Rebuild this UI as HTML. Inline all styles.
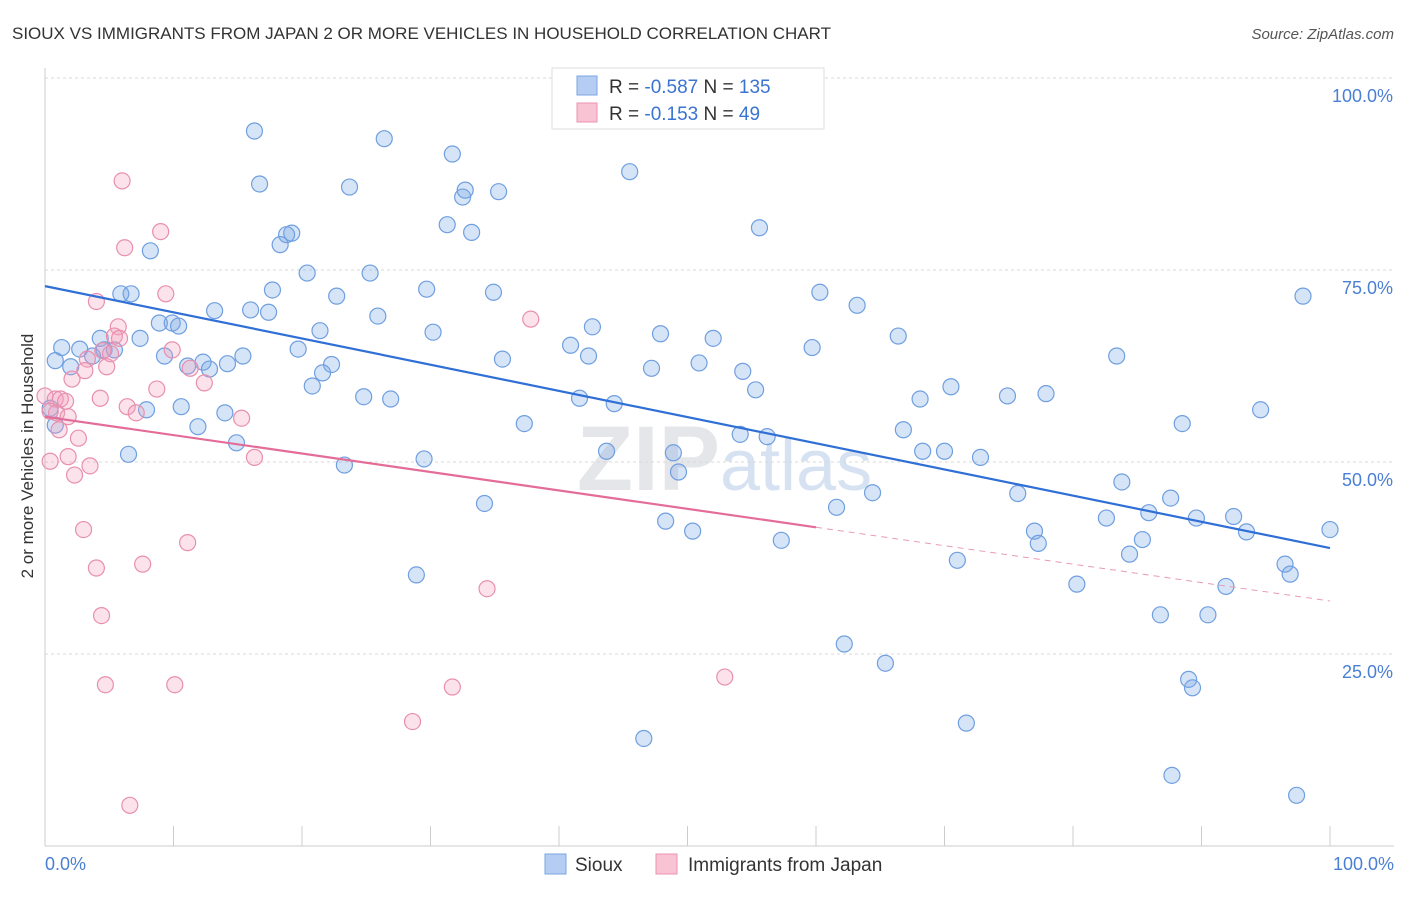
<!DOCTYPE html>
<html><head><meta charset="utf-8"><style>
body{margin:0;background:#fff;font-family:"Liberation Sans",sans-serif}
svg text{font-family:"Liberation Sans",sans-serif}
</style></head><body>
<svg id="chart" width="1406" height="892" viewBox="0 0 1406 892">
<text x="12" y="39" font-size="17" fill="#333">SIOUX VS IMMIGRANTS FROM JAPAN 2 OR MORE VEHICLES IN HOUSEHOLD CORRELATION CHART</text>
<text x="1394" y="39" font-size="15" fill="#555" text-anchor="end" font-style="italic">Source: ZipAtlas.com</text>
<text x="720" y="490" font-size="92" fill="#e4e6ea" text-anchor="end" font-weight="bold">ZIP</text>
<text x="720" y="490" font-size="72" fill="#d6e2f2">atlas</text>
<g id="grid"></g>
<g id="axes"></g>
<g id="pts"></g>
<g id="trend"></g>
<text transform="translate(33,456) rotate(-90)" font-size="17" fill="#333" text-anchor="middle">2 or more Vehicles in Household</text>
<text x="45" y="870" font-size="18" fill="#4a7fd4">0.0%</text>
<text x="1394" y="870" font-size="18" fill="#4a7fd4" text-anchor="end">100.0%</text>
<g>
<rect x="552" y="68" width="272" height="61" fill="#fff" stroke="#ddd"/>
<rect x="577" y="76" width="20" height="19" fill="#b5cdf2" stroke="#7aa5e3"/>
<rect x="577" y="103" width="20" height="19" fill="#f8c3d3" stroke="#eb93b0"/>
<text x="609" y="93" font-size="19" fill="#333">R = <tspan fill="#3b73d1">-0.587</tspan>   N = <tspan fill="#3b73d1">135</tspan></text>
<text x="609" y="120" font-size="19" fill="#333">R =  <tspan fill="#3b73d1">-0.153</tspan>   N =  <tspan fill="#3b73d1"> 49</tspan></text>
</g>
<g><rect x="545" y="854" width="21" height="20" fill="#b5cdf2" stroke="#7aa5e3"/><text x="575" y="871" font-size="19" fill="#333">Sioux</text></g>
<g><rect x="656" y="854" width="21" height="20" fill="#f8c3d3" stroke="#eb93b0"/><text x="688" y="871" font-size="19" fill="#333">Immigrants from Japan</text></g>
</svg>
<script>
const yTicks=[25,50,75,100];
const yTickLabels=["25.0%","50.0%","75.0%","100.0%"];
const xTicks=[0,10,20,30,40,50,60,70,80,90,100];
const siouxX=[16.3,26.4,31.7,16.7,23.7,32.7,32.5,35.3,45.5,31.3,33.2,19.2,18.8,18.3,55.6,8.2,20.4,25.3,17.7,5.9,6.7,22.7,29.7,34.9,60.3,63.2,97.9,13.2,16.0,17.4,25.9,8.9,9.9,10.4,21.4,30.2,42.6,47.9,52.0,66.4,1.3,2.7,4.3,7.4,4.6,5.4,3.7,9.3,19.7,40.9,59.7,83.4,0.8,2.0,11.1,12.3,12.8,15.4,14.2,22.3,21.6,35.6,42.3,47.2,50.9,54.3,20.8,24.8,26.9,41.6,44.3,55.3,68.1,70.5,74.9,77.9,94.6,88.5,0.4,0.8,7.9,10.6,14.0,11.9,37.3,54.1,56.2,66.8,14.9,6.5,23.3,29.5,43.7,48.9,49.3,68.3,70.0,72.8,75.7,83.8,64.4,34.2,61.6,82.6,85.9,87.6,89.6,92.5,93.5,48.3,50.4,57.3,77.0,77.3,85.4,84.4,71.0,100.0,96.5,96.9,28.9,80.3,91.9,86.8,90.5,62.2,65.4,89.0,89.3,71.7,46.6,87.7,97.4];
const siouxY=[93.1,92.1,90.1,86.2,85.8,85.4,84.5,85.2,87.8,80.9,79.9,79.8,79.6,78.3,80.5,77.5,74.6,74.6,72.4,71.9,71.9,71.6,72.5,72.1,72.1,70.4,71.6,69.7,69.8,69.5,69.0,68.1,68.1,67.7,67.1,66.9,67.6,66.7,66.1,66.4,64.9,64.7,66.1,66.1,64.6,64.6,63.8,63.8,64.7,65.2,64.9,63.8,63.2,62.4,62.5,63.0,62.1,63.8,62.8,62.7,61.6,63.4,63.8,62.2,62.9,61.8,59.9,58.5,58.2,58.3,57.6,59.4,58.2,59.8,58.6,58.9,56.8,55.0,57.0,54.8,56.8,57.2,56.4,54.6,55.0,53.6,53.3,54.2,52.5,51.0,49.6,50.4,51.4,51.2,48.7,51.4,51.4,50.6,45.9,47.4,46.0,44.6,44.1,42.7,43.4,45.3,42.7,42.9,40.9,42.3,41.0,39.8,41.0,39.4,39.9,38.0,37.2,41.2,36.7,35.4,35.3,34.1,33.8,30.1,30.1,26.3,23.8,21.7,20.6,16.0,14.0,9.2,6.6];
const japanX=[6.0,9.0,6.2,9.4,4.0,37.8,5.7,5.4,5.8,9.9,4.5,3.3,4.8,3.1,11.3,12.4,2.1,8.7,0.0,0.8,1.2,4.3,6.4,7.1,0.9,1.8,15.3,1.1,2.6,1.8,16.3,3.5,0.4,2.3,3.0,11.1,7.6,4.0,34.4,4.4,52.9,4.7,10.1,31.7,28.6,6.6,0.4,1.6,5.1];
const japanY=[86.6,80.0,77.9,71.9,70.9,68.6,67.6,66.4,66.1,64.6,64.5,63.4,62.4,61.9,62.2,60.3,60.8,59.5,58.6,58.2,58.2,58.3,57.2,56.4,56.4,55.9,55.7,54.2,53.1,50.7,50.6,49.5,50.1,48.3,41.2,39.5,36.7,36.2,33.5,30.0,22.0,21.0,21.0,20.7,16.2,5.3,56.6,57.9,64.1];
const siouxTrend=[72.9,38.8];
const japanTrend=[55.9,41.5,31.9];
const X0=45,X1=1330,Y0=846,Y100=78;
const sx=v=>X0+(X1-X0)*v/100, sy=v=>Y0-(Y0-Y100)*v/100;
const NS="http://www.w3.org/2000/svg";
function mk(t,a,p){const e=document.createElementNS(NS,t);for(const k in a)e.setAttribute(k,a[k]);p.appendChild(e);return e;}
const grid=document.getElementById('grid'),axes=document.getElementById('axes'),pts=document.getElementById('pts'),tr=document.getElementById('trend');
yTicks.forEach((t,i)=>{
 const l=mk('line',{x1:45,x2:1394,y1:sy(t),y2:sy(t),stroke:'#d8d8d8','stroke-dasharray':'3,3'},grid);
 
 
 const tx=mk('text',{x:1393,y:sy(t)+24,'font-size':18,fill:'#4a7fd4','text-anchor':'end'},grid);
 tx.textContent=yTickLabels[i];
 
 
});
const ax=mk('line',{x1:45,x2:1394,y1:Y0,y2:Y0,stroke:'#ccc'},axes);


const ay=mk('line',{x1:45,x2:45,y1:68,y2:Y0,stroke:'#ccc'},axes);


xTicks.forEach(t=>{
 const l=mk('line',{x1:sx(t),x2:sx(t),y1:826,y2:Y0,stroke:'#ccc'},axes);
 
 
});
siouxX.forEach((x,i)=>{
 const c=mk('circle',{cx:sx(x),cy:sy(siouxY[i]),r:8,fill:'rgba(120,165,230,0.3)',stroke:'#6f9fe0','stroke-width':1.2},pts);
 
 
});
japanX.forEach((x,i)=>{
 const c=mk('circle',{cx:sx(x),cy:sy(japanY[i]),r:8,fill:'rgba(242,160,190,0.3)',stroke:'#e98fae','stroke-width':1.2},pts);
 
 
});
const l1=mk('line',{x1:sx(0),y1:sy(siouxTrend[0]),x2:sx(100),y2:sy(siouxTrend[1]),stroke:'#2f6fd6','stroke-width':2.2},tr);


const l2=mk('line',{x1:sx(0),y1:sy(japanTrend[0]),x2:sx(60),y2:sy(japanTrend[1]),stroke:'#e46c98','stroke-width':2.2},tr);


const l3=mk('line',{x1:sx(60),y1:sy(japanTrend[1]),x2:sx(100),y2:sy(japanTrend[2]),stroke:'#e99ab5','stroke-width':1,'stroke-dasharray':'6,5'},tr);


</script>
</body></html>
